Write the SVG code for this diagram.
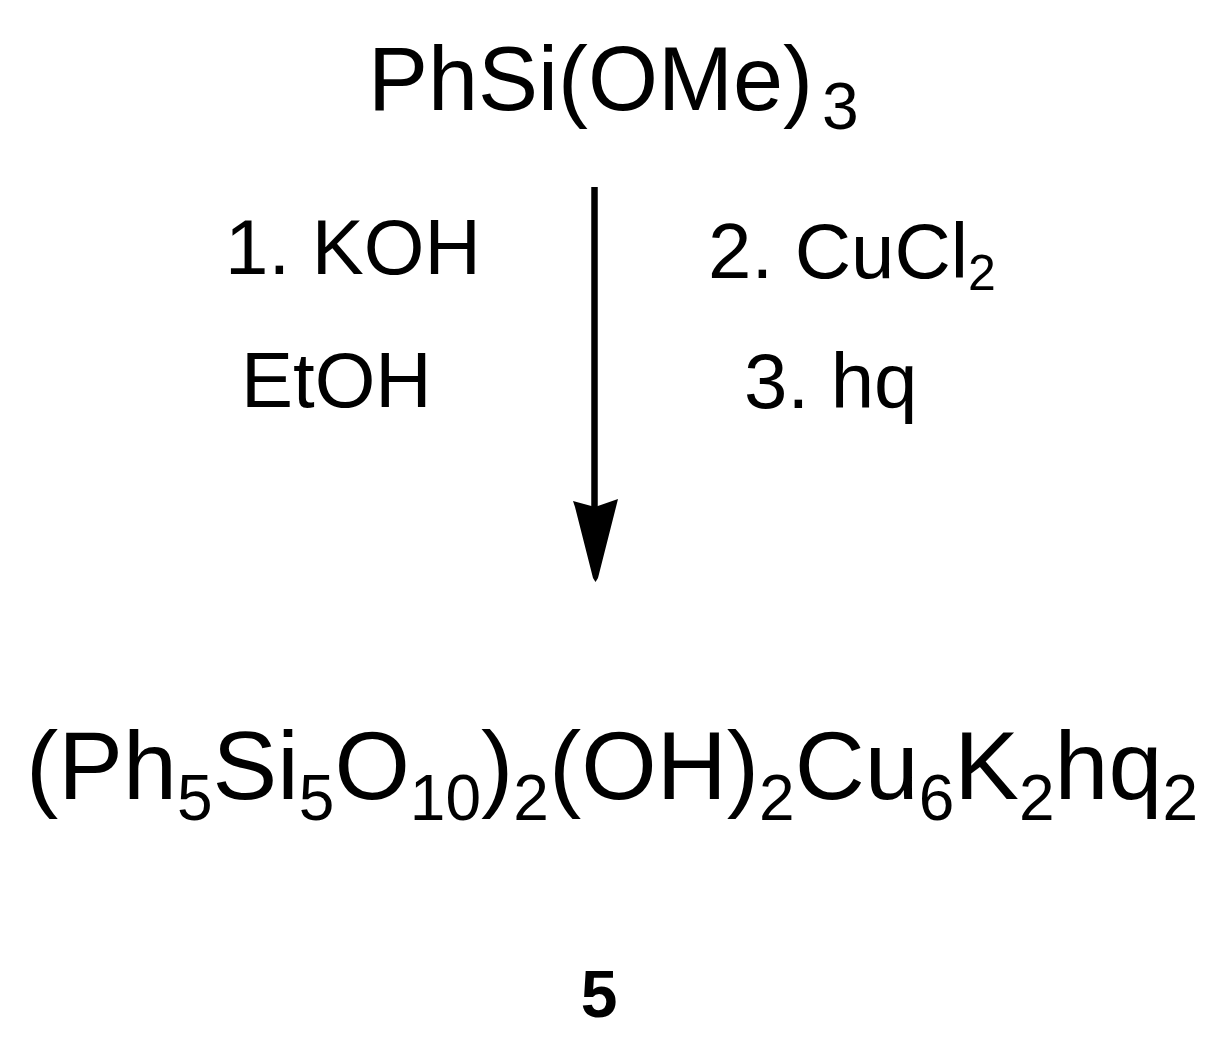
<svg xmlns="http://www.w3.org/2000/svg" width="1224" height="1056" viewBox="0 0 1224 1056">
<style>
text{font-family:"Liberation Sans",Arial,sans-serif;fill:#000}
.big{font-size:90px}
.bsub{font-size:66px}
.formula{font-size:97px}
.sub{font-size:64px}
.reag{font-size:78px}
.rsub{font-size:50px}
.label{font-size:66px;font-weight:bold}
</style>
<rect width="1224" height="1056" fill="#fff"/>
<g id="start">
<text class="big" x="368" y="110">PhSi(OMe)</text>
<text class="bsub" x="822" y="129">3</text>
</g>
<g id="reagent-left">
<text class="reag" x="225" y="274">1. KOH</text>
<text class="reag" x="241" y="407">EtOH</text>
</g>
<g id="reagent-right">
<text class="reag" x="708" y="278">2. CuCl<tspan class="rsub" dy="12">2</tspan></text>
<text class="reag" x="744" y="408">3. hq</text>
</g>
<g id="connectors">
<line x1="594.5" y1="187" x2="594.5" y2="508" stroke="#000" stroke-width="6.5"/>
<polygon points="573,501 595,507 618,499 616,507 598,578 595.5,582 593,578 575,507" fill="#000"/>
</g>
<g id="product">
<text class="formula" x="26" y="799">(Ph<tspan class="sub" dy="21">5</tspan><tspan dy="-21">Si</tspan><tspan class="sub" dy="21">5</tspan><tspan dy="-21">O</tspan><tspan class="sub" dy="21">10</tspan><tspan dy="-21">)</tspan><tspan class="sub" dy="21">2</tspan><tspan dy="-21">(OH)</tspan><tspan class="sub" dy="21">2</tspan><tspan dy="-21">Cu</tspan><tspan class="sub" dy="21">6</tspan><tspan dy="-21">K</tspan><tspan class="sub" dy="21">2</tspan><tspan dy="-21">hq</tspan><tspan class="sub" dy="21">2</tspan></text>
</g>
<g id="compound-label">
<text class="label" x="599" y="1017" text-anchor="middle">5</text>
</g>
</svg>
